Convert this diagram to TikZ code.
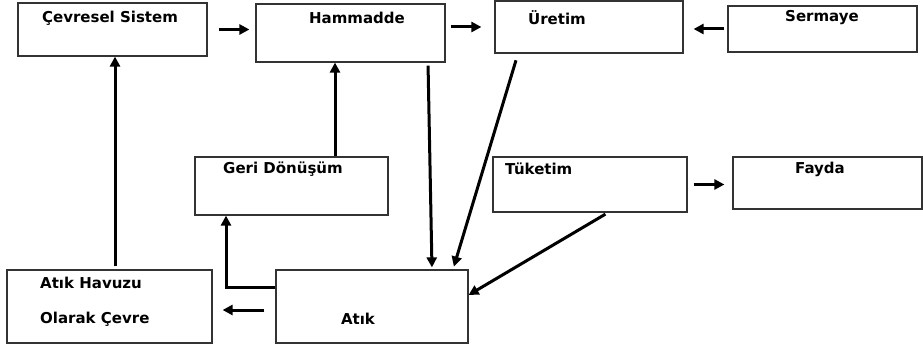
\documentclass[tikz,border=0pt]{standalone}
\usepackage{fontspec}
\setmainfont{DejaVu Sans}
\usetikzlibrary{arrows.meta}

\begin{document}
\begin{tikzpicture}[x=1pt,y=-1pt,
        kutu/.style={draw=black!80, line width=1.2pt, inner sep=0pt},
        yazi/.style={font=\fontsize{15}{18}\selectfont\bfseries, inner sep=0pt},
        ok/.style={-{Triangle[length=10pt,width=10pt]}, line width=3pt}]
        \useasboundingbox (0,0) rectangle (923,347);

        % kutular
        \node[kutu, minimum width=189pt, minimum height=53pt] (cev) at (112.5,29.5) {};
        \node[kutu, minimum width=189pt, minimum height=58pt] (ham) at (350.5,33) {};
        \node[kutu, minimum width=188pt, minimum height=52pt] (ure) at (589,27) {};
        \node[kutu, minimum width=189pt, minimum height=46pt] (ser) at (822.5,29) {};
        \node[kutu, minimum width=193pt, minimum height=58pt] (geri) at (291.5,186) {};
        \node[kutu, minimum width=194pt, minimum height=55pt] (tuk) at (590,184.5) {};
        \node[kutu, minimum width=189pt, minimum height=52pt] (fay) at (827.5,183) {};
        \node[kutu, minimum width=205pt, minimum height=73pt] (hav) at (109.5,306.5) {};
        \node[kutu, minimum width=192pt, minimum height=73pt] (atik) at (372,306.5) {};

        % yazilar
        \node[yazi] (tcev) at (110,18) {Çevresel Sistem};
        \node[yazi] (tham) at (357,18) {Hammadde};
        \node[yazi] (ture) at (557,18) {Üretim};
        \node[yazi] (tser) at (822,18) {Sermaye};
        \node[yazi] (tgeri) at (283,169) {Geri Dönüşüm};
        \node[yazi, anchor=west] (ttuk) at (505,169) {Tüketim};
        \node[yazi] (tfay) at (820,169) {Fayda};
        \node[yazi, anchor=west] (thav1) at (40,283) {Atık Havuzu};
        \node[yazi, anchor=west] (thav2) at (40,319) {Olarak Çevre};
        \node[yazi] (tatik) at (358,319) {Atık};

        % oklar
        \draw[ok, shorten <=11pt, shorten >=6pt] (cev.east) -- (cev.east -| ham.west);
        \draw[ok, shorten <=5pt, shorten >=13pt] (ure.west -| ham.east) -- (ure.west);
        \draw[ok, shorten <=3pt, shorten >=10pt] (ser.west) -- (ser.west -| ure.east);
        \draw[ok, shorten <=6pt, shorten >=8pt] (tuk.east) -- (tuk.east -| fay.west);
        \draw[ok, shorten <=11pt, shorten >=10pt] ([yshift=-3.5pt]atik.west) -- ([yshift=-3.5pt]atik.west -| hav.east);

        \draw[ok] ([yshift=19.5pt]atik.west) -| ([xshift=-65.5pt]geri.south);
        \draw[ok] ([xshift=43.5pt]geri.north) -- ([xshift=43.5pt]geri.north |- ham.south);
        \draw[ok, shorten <=3pt] ([xshift=5.5pt]hav.north) -- ([xshift=5.5pt]hav.north |- cev.south);

        \draw[ok, shorten <=3pt, shorten >=2pt] ([xshift=77.5pt]ham.south) -- ([xshift=60pt]atik.north);
        \draw[ok, shorten <=7pt, shorten >=3pt] ([xshift=-71pt]ure.south) -- ([xshift=81pt]atik.north);
        \draw[ok, shorten <=3pt] ([xshift=18pt]tuk.south) -- ([yshift=11.5pt]atik.east);

    \end{tikzpicture}
\end{document}
